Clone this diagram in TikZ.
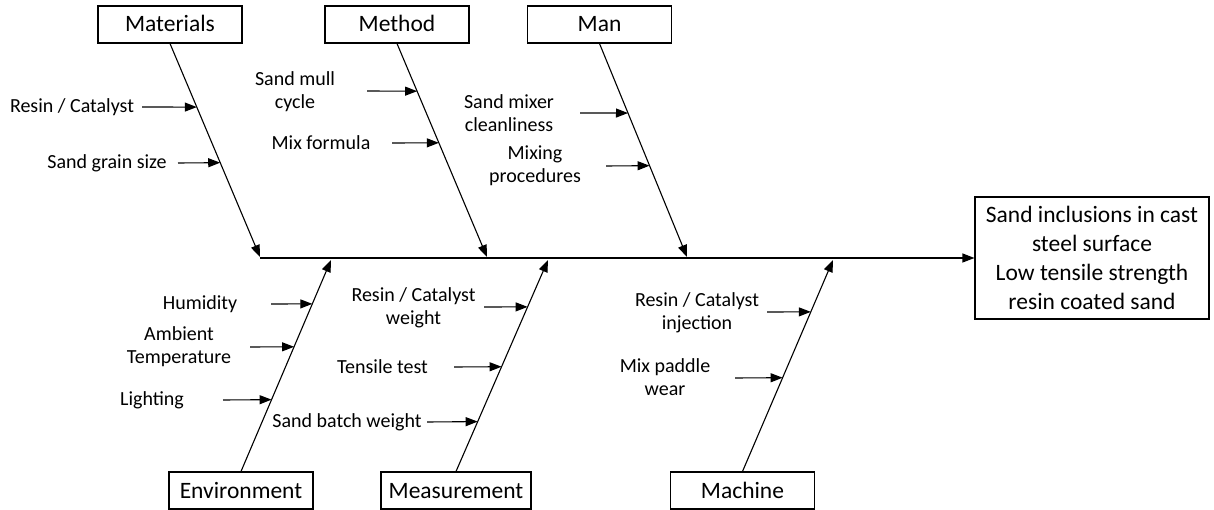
\documentclass[tikz,border=0pt]{standalone}
\usepackage{fontspec}
\setmainfont{Carlito}
\usetikzlibrary{arrows.meta,calc}
\begin{document}
\begin{tikzpicture}[x=1pt,y=-1pt,
  catbox/.style={font=\fontsize{23.5}{28}\selectfont,draw,line width=1.1pt,minimum width=144pt,
    minimum height=37pt,inner sep=0pt,text height=20pt,text depth=5pt},
  lbl/.style={font=\fontsize{20}{23}\selectfont,align=center,inner sep=0pt},
  arr/.style={line width=1.1pt,-{Triangle[length=12pt,width=9pt]}},
]
\useasboundingbox (0,0) rectangle (1214,510);

% category boxes
\node[catbox] (mat)  at (170,24.5) {Materials};
\node[catbox] (meth) at (397,24.5) {Method};
\node[catbox] (man)  at (599.5,24.5) {Man};
\node[catbox] (env)  at (241,490.5) {Environment};
\node[catbox,minimum width=150pt] (meas) at (456,490.5) {Measurement};
\node[catbox] (mach) at (742.5,490.5) {Machine};

% effect box
\node[draw,line width=1.1pt,minimum width=234pt,minimum height=122pt,inner sep=0pt,align=center,
      font=\fontsize{23.5}{29}\selectfont] (eff) at (1092,258)
  {Sand inclusions in cast\\steel surface\\Low tensile strength\\resin coated sand};

% spine
\coordinate (sp) at (260,258);
\draw[arr] (sp) -- (eff.west);

% branch tips
\coordinate (tmat)  at (260,257);
\coordinate (tmeth) at (487,257);
\coordinate (tman)  at (687,257);
\coordinate (tenv)  at (331,260);
\coordinate (tmeas) at (548,260);
\coordinate (tmach) at (833,260);

\draw[arr] (mat.south) -- (tmat);
\draw[arr] (meth.south) -- (tmeth);
\draw[arr] (man.south) -- (tman);
\draw[arr] (env.north) -- (tenv);
\draw[arr] (meas.north) -- (tmeas);
\draw[arr] (mach.north) -- (tmach);

% Materials causes
\node[lbl] (m1) at (72,107) {Resin / Catalyst};
\node[lbl] (m2) at (107,163) {Sand grain size};
\coordinate (m1s) at (142,107);
\coordinate (m1t) at ($(mat.south)!0.2977!(tmat)$);
\coordinate (m2s) at (178,163);
\coordinate (m2t) at ($(mat.south)!0.5581!(tmat)$);
\draw[arr] (m1s) -- (m1t);
\draw[arr] (m2s) -- (m2t);

% Method causes
\node[lbl] (d1) at (295,91.5) {Sand mull\\cycle};
\node[lbl] (d2) at (321,143) {Mix formula};
\coordinate (d1s) at (367,91);
\coordinate (d1t) at ($(meth.south)!0.2233!(tmeth)$);
\coordinate (d2s) at (392,143);
\coordinate (d2t) at ($(meth.south)!0.4651!(tmeth)$);
\draw[arr] (d1s) -- (d1t);
\draw[arr] (d2s) -- (d2t);

% Man causes
\node[lbl] (n1) at (509,113) {Sand mixer\\cleanliness};
\node[lbl] (n2) at (535,166) {Mixing\\procedures};
\coordinate (n1s) at (580,113);
\coordinate (n1t) at ($(man.south)!0.3256!(tman)$);
\coordinate (n2s) at (606,166);
\coordinate (n2t) at ($(man.south)!0.5721!(tman)$);
\draw[arr] (n1s) -- (n1t);
\draw[arr] (n2s) -- (n2t);

% Environment causes
\node[lbl] (e1) at (200,304) {Humidity};
\node[lbl] (e2) at (179,346.5) {Ambient\\Temperature};
\node[lbl] (e3) at (152,400) {Lighting};
\coordinate (e1s) at (271,304);
\coordinate (e1t) at ($(env.north)!0.7925!(tenv)$);
\coordinate (e2s) at (250,347);
\coordinate (e2t) at ($(env.north)!0.5896!(tenv)$);
\coordinate (e3s) at (223,400);
\coordinate (e3t) at ($(env.north)!0.3396!(tenv)$);
\draw[arr] (e1s) -- (e1t);
\draw[arr] (e2s) -- (e2t);
\draw[arr] (e3s) -- (e3t);

% Measurement causes
\node[lbl] (s1) at (413.5,307.5) {Resin / Catalyst\\weight};
\node[lbl] (s2) at (382.5,367) {Tensile test};
\node[lbl] (s3) at (347,422) {Sand batch weight};
\coordinate (s1s) at (484,307);
\coordinate (s1t) at ($(meas.north)!0.7783!(tmeas)$);
\coordinate (s2s) at (454,367);
\coordinate (s2t) at ($(meas.north)!0.4953!(tmeas)$);
\coordinate (s3s) at (427,422);
\coordinate (s3t) at ($(meas.north)!0.2358!(tmeas)$);
\draw[arr] (s1s) -- (s1t);
\draw[arr] (s2s) -- (s2t);
\draw[arr] (s3s) -- (s3t);

% Machine causes
\node[lbl] (c1) at (697,312.5) {Resin / Catalyst\\injection};
\node[lbl] (c2) at (665,377.5) {Mix paddle\\wear};
\coordinate (c1s) at (767,312);
\coordinate (c1t) at ($(mach.north)!0.7547!(tmach)$);
\coordinate (c2s) at (735,378);
\coordinate (c2t) at ($(mach.north)!0.4434!(tmach)$);
\draw[arr] (c1s) -- (c1t);
\draw[arr] (c2s) -- (c2t);

\end{tikzpicture}
\end{document}
